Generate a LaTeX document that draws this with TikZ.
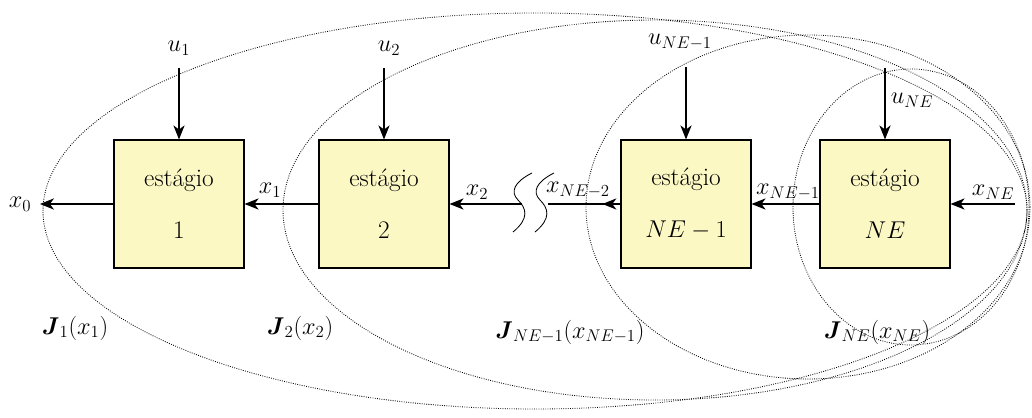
\documentclass[tikz,border=0pt]{standalone}
\usepackage{amsmath,amssymb}
\usepackage{xcolor}
\usetikzlibrary{arrows.meta,positioning}
\definecolor{stagefill}{RGB}{252,248,196}

\begin{document}
\begin{tikzpicture}[x=0.025cm, y=-0.025cm,
  every node/.style={font=\fontsize{17}{20}\selectfont},
  stage/.style={draw, line width=0.8pt, fill=stagefill, minimum width=3.25cm, minimum height=3.2cm, align=center, inner sep=0pt, font=\fontsize{18}{21}\selectfont},
  arrow/.style={-{Stealth[length=10pt, width=8pt, inset=3pt]}, line width=0.8pt},
  region/.style={densely dotted, line width=0.6pt}
]
\useasboundingbox (0,0) rectangle (1032,418);
% regioes das funcoes J
\draw[region] (535,211) ellipse [x radius=492, y radius=198];
\draw[region] (655,210) ellipse [x radius=372, y radius=190];
\draw[region] (808,207) ellipse [x radius=222, y radius=172];
\draw[region] (911,207) ellipse [x radius=118, y radius=138];
% estagios
\node[stage] (s1) at (179,204) {estágio\\[16pt]1};
\node[stage] (s2) at (384,204) {estágio\\[16pt]2};
\node[stage] (snm1) at (686,204) {estágio\\[16pt]$NE-1$};
\node[stage] (sn) at (885,204) {estágio\\[16pt]$NE$};
% extremos livres
\coordinate (x0end) at (40,204);
\coordinate (brkL) at (522,204);
\coordinate (brkR) at (548,204);
\coordinate (xnin) at (1015,204);
\coordinate (u1top) at (179,68);
\coordinate (u2top) at (384,68);
\coordinate (unm1top) at (686,67);
\coordinate (untop) at (885,68);
% ligacoes
\draw[arrow] (s1.west) -- (x0end);
\draw[arrow] (s2.west) -- (s1.east);
\draw[arrow] (brkL) -- (s2.east);
\draw[line width=0.8pt] (snm1.west) -- (brkR);
\draw[arrow] (snm1.west) -- ([xshift=-0.45cm]snm1.west);
\draw[arrow] (sn.west) -- (snm1.east);
\draw[arrow] (xnin) -- (sn.east);
\draw[arrow] (u1top) -- (s1.north);
\draw[arrow] (u2top) -- (s2.north);
\draw[arrow] (unm1top) -- (snm1.north);
\draw[arrow] (untop) -- (sn.north);
% quebra
\foreach \dx in {0,22}
  \draw[line width=0.6pt] (532+\dx,173) .. controls (514+\dx,182) and (510+\dx,192) .. (518+\dx,200)
    .. controls (526+\dx,208) and (530+\dx,218) .. (513+\dx,232);
% rotulos
\node (lu1) at (179,48) {$u_1$};
\node (lu2) at (389,48) {$u_2$};
\node (lunm1) at (680,42) {$u_{NE-1}$};
\node (lun) at (912,100) {$u_{NE}$};
\node (lx0) at (20,204) {$x_0$};
\node (lx1) at (270,190) {$x_1$};
\node (lx2) at (477,192) {$x_2$};
\node (lxnm2) at (578,190) {$x_{NE-2}$};
\node (lxnm1) at (788,192) {$x_{NE-1}$};
\node (lxn) at (993,192) {$x_{NE}$};
\node (lj1) at (75,328) {$\boldsymbol{J}_1(x_1)$};
\node (lj2) at (300,328) {$\boldsymbol{J}_2(x_2)$};
\node (ljnm1) at (570,332) {$\boldsymbol{J}_{NE-1}(x_{NE-1})$};
\node (ljn) at (877,332) {$\boldsymbol{J}_{NE}(x_{NE})$};
\end{tikzpicture}
\end{document}
